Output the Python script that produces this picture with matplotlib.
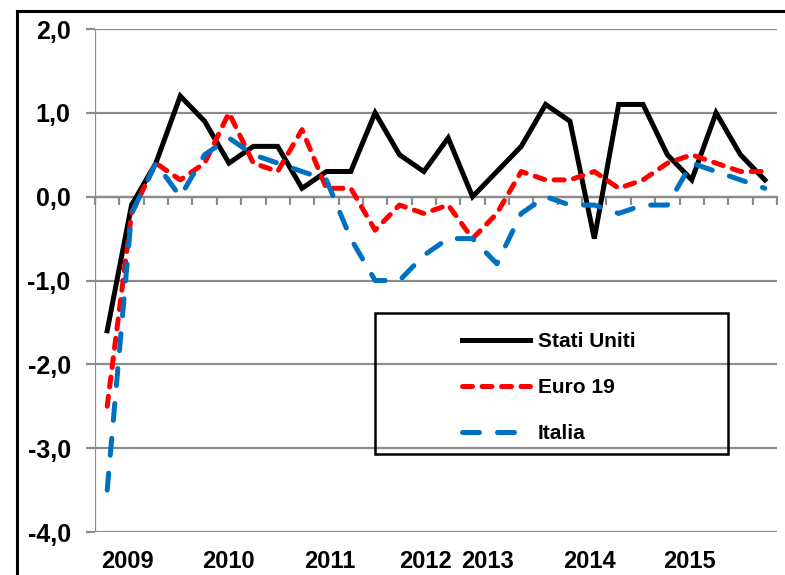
import numpy as np
import matplotlib
matplotlib.use('Agg')
import matplotlib.pyplot as plt
from matplotlib.patches import Rectangle
from matplotlib.lines import Line2D

plt.rcParams['font.family'] = ['Liberation Sans', 'DejaVu Sans']
plt.rcParams['font.weight'] = 'bold'

# quarterly data 2009Q1 - 2015Q4
stati_uniti = [-1.6, -0.1, 0.4, 1.2, 0.9, 0.4, 0.6, 0.6, 0.1, 0.3, 0.3, 1.0, 0.5, 0.3,
               0.7, 0.0, 0.3, 0.6, 1.1, 0.9, -0.5, 1.1, 1.1, 0.5, 0.2, 1.0, 0.5, 0.2]
euro19 = [-2.5, -0.2, 0.4, 0.2, 0.4, 1.0, 0.4, 0.3, 0.8, 0.1, 0.1, -0.4, -0.1, -0.2,
          -0.1, -0.5, -0.2, 0.3, 0.2, 0.2, 0.3, 0.1, 0.2, 0.4, 0.5, 0.4, 0.3, 0.3]
italia = [-3.5, -0.2, 0.4, 0.0, 0.5, 0.7, 0.5, 0.4, 0.3, 0.2, -0.5, -1.0, -1.0, -0.7,
          -0.5, -0.5, -0.8, -0.2, 0.0, -0.1, -0.1, -0.2, -0.1, -0.1, 0.4, 0.3, 0.2, 0.1]
year_labels = ['2009', '2010', '2011', '2012', '2013', '2014', '2015']
year_pos = [0.85, 4.96, 9.15, 13.05, 15.6, 19.82, 23.92]
y_ticks = [2.0, 1.0, 0.0, -1.0, -2.0, -3.0, -4.0]

x = np.arange(len(stati_uniti))
grid_col = '#8c8c8c'

fig = plt.figure(figsize=(7.85, 5.75), dpi=100)
ax = fig.add_axes([95/785, 1 - 532/575, 682/785, 503/575])

lw = 3.6
ax.plot(x, stati_uniti, color='black', lw=lw, solid_joinstyle='miter',
        label='Stati Uniti', zorder=3)
ax.plot(x, euro19, color='#ff0000', lw=lw, linestyle=(0, (2.0, 1.9)),
        dash_capstyle='round', label='Euro 19', zorder=4)
ax.plot(x, italia, color='#0070c0', lw=lw, linestyle=(0, (3.4, 3.6)),
        dash_capstyle='round', label='Italia', zorder=5)

ax.set_xlim(-0.5, len(x) - 0.5)
ax.set_ylim(-4.0, 2.0)

# horizontal gridlines and left axis
for v in y_ticks:
    ax.axhline(v, color=grid_col, lw=1.6, zorder=1)
ax.axvline(-0.5, color=grid_col, lw=1.6, zorder=1)

for s in ax.spines.values():
    s.set_visible(False)
ax.spines['bottom'].set_visible(True)
ax.spines['bottom'].set_position(('data', 0))
ax.spines['bottom'].set_color(grid_col)
ax.spines['bottom'].set_linewidth(1.6)

ax.set_xticks(np.arange(-0.5, len(x)), minor=True)
ax.set_xticks([])
ax.tick_params(axis='x', which='minor', direction='out', length=6, width=1.6,
               color=grid_col, labelbottom=False)

ax.set_yticks(y_ticks)
ax.set_yticklabels([('%.1f' % v).replace('.', ',') for v in y_ticks])
ax.tick_params(axis='y', direction='out', length=6.5, width=1.6, color=grid_col,
               pad=11, labelsize=18)

for lab, p in zip(year_labels, year_pos):
    ax.text(p, -4.35, lab, ha='center', va='center', fontsize=17,
            fontweight='bold', clip_on=False)

# legend
leg = ax.legend(loc='upper left', bbox_to_anchor=(0.538, 0.397), frameon=False,
                fontsize=15, handlelength=3.25, handletextpad=0.4,
                labelspacing=1.3, borderpad=0, borderaxespad=0)
for t in leg.get_texts():
    t.set_fontweight('bold')
ax.add_patch(Rectangle((0.4106, 0.155), 0.5176, 0.28, transform=ax.transAxes,
                       fill=False, edgecolor='black', lw=1.8, zorder=6,
                       clip_on=False))

# outer chart border (left and top visible)
fig.add_artist(Line2D([17/785, 17/785], [0, 1 - 11/575], color='black', lw=2.2))
fig.add_artist(Line2D([17/785, 1], [1 - 11/575, 1 - 11/575], color='black', lw=2.2))

fig.savefig('out.png', dpi=100)
